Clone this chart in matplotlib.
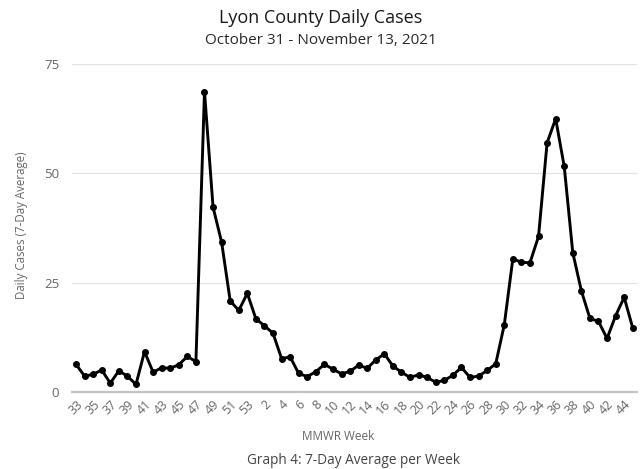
import matplotlib
matplotlib.use("Agg")
import matplotlib.pyplot as plt

weeks = [str(w) for w in range(33, 54)] + [str(w) for w in range(1, 46)]
cases = [6.4, 3.7, 4.1, 5.1, 2.1, 4.9, 3.7, 1.8, 9.3, 4.6,
         5.6, 5.5, 6.3, 8.2, 7.0, 68.7, 42.3, 34.3, 20.9, 18.7,
         22.6, 16.8, 15.2, 13.5, 7.7, 8.1, 4.3, 3.6, 4.7, 6.4,
         5.3, 4.2, 4.8, 6.2, 5.5, 7.4, 8.8, 6.0, 4.6, 3.4,
         4.0, 3.4, 2.3, 2.7, 3.9, 5.7, 3.4, 3.7, 5.0, 6.5,
         15.4, 30.5, 29.7, 29.6, 35.6, 57.0, 62.5, 51.6, 31.9, 23.2,
         16.9, 16.2, 12.3, 17.5, 21.7, 14.7]
y_ticks = [0, 25, 50, 75]

title = "Lyon County Daily Cases"
subtitle = "October 31 - November 13, 2021"
x_label = "MMWR Week"
y_label = "Daily Cases (7-Day Average)"
caption = "Graph 4: 7-Day Average per Week"

plt.rcParams['font.family'] = ['Open Sans', 'DejaVu Sans']

fig = plt.figure(figsize=(6.41, 4.69), dpi=100)
ax = fig.add_axes([0.1119, 0.1635, 0.9938 - 0.1119, 0.8635 - 0.1635])

x = list(range(len(weeks)))
ax.plot(x, cases, color='black', linewidth=2.1, marker='o', markersize=4,
        solid_joinstyle='round', zorder=3)

ax.set_xlim(-0.5, len(weeks) - 0.5)
ax.set_ylim(0, 75)
ax.set_yticks(y_ticks)
ax.set_yticklabels([str(t) for t in y_ticks], fontsize=9.5, color='#666666')
ax.grid(axis='y', color='#e3e3e3', linewidth=0.9, zorder=0)
ax.set_axisbelow(True)
for s in ['top', 'right', 'left']:
    ax.spines[s].set_visible(False)
ax.spines['bottom'].set_color('#c4c4c4')
ax.spines['bottom'].set_linewidth(1.6)
ax.tick_params(axis='both', length=0, pad=6)
ax.tick_params(axis='y', pad=9)

tick_idx = [i for i in range(len(weeks)) if i % 2 == 0]
ax.set_xticks(tick_idx)
ax.set_xticklabels([weeks[i] for i in tick_idx], rotation=45, ha='right',
                   rotation_mode='anchor', fontsize=9, color='#666666')
ax.tick_params(axis='x', pad=4)

fig.text(0.5, 1 - 18 / 469, title, ha='center', va='center', fontsize=13, color='#1a1a1a')
fig.text(0.5, 1 - 41 / 469, subtitle, ha='center', va='center', fontsize=11, color='#2a2a2a')
fig.text(338 / 641, 1 - 437 / 469, x_label, ha='center', va='center', fontsize=8.5, color='#666666')
fig.text(354 / 641, 1 - 460 / 469, caption, ha='center', va='center', fontsize=9.8, color='#444444')
fig.text(22 / 641, 1 - 225 / 469, y_label, ha='center', va='center', rotation=90,
         fontsize=8.3, color='#666666')

fig.savefig('out.png', dpi=100, facecolor='white')
